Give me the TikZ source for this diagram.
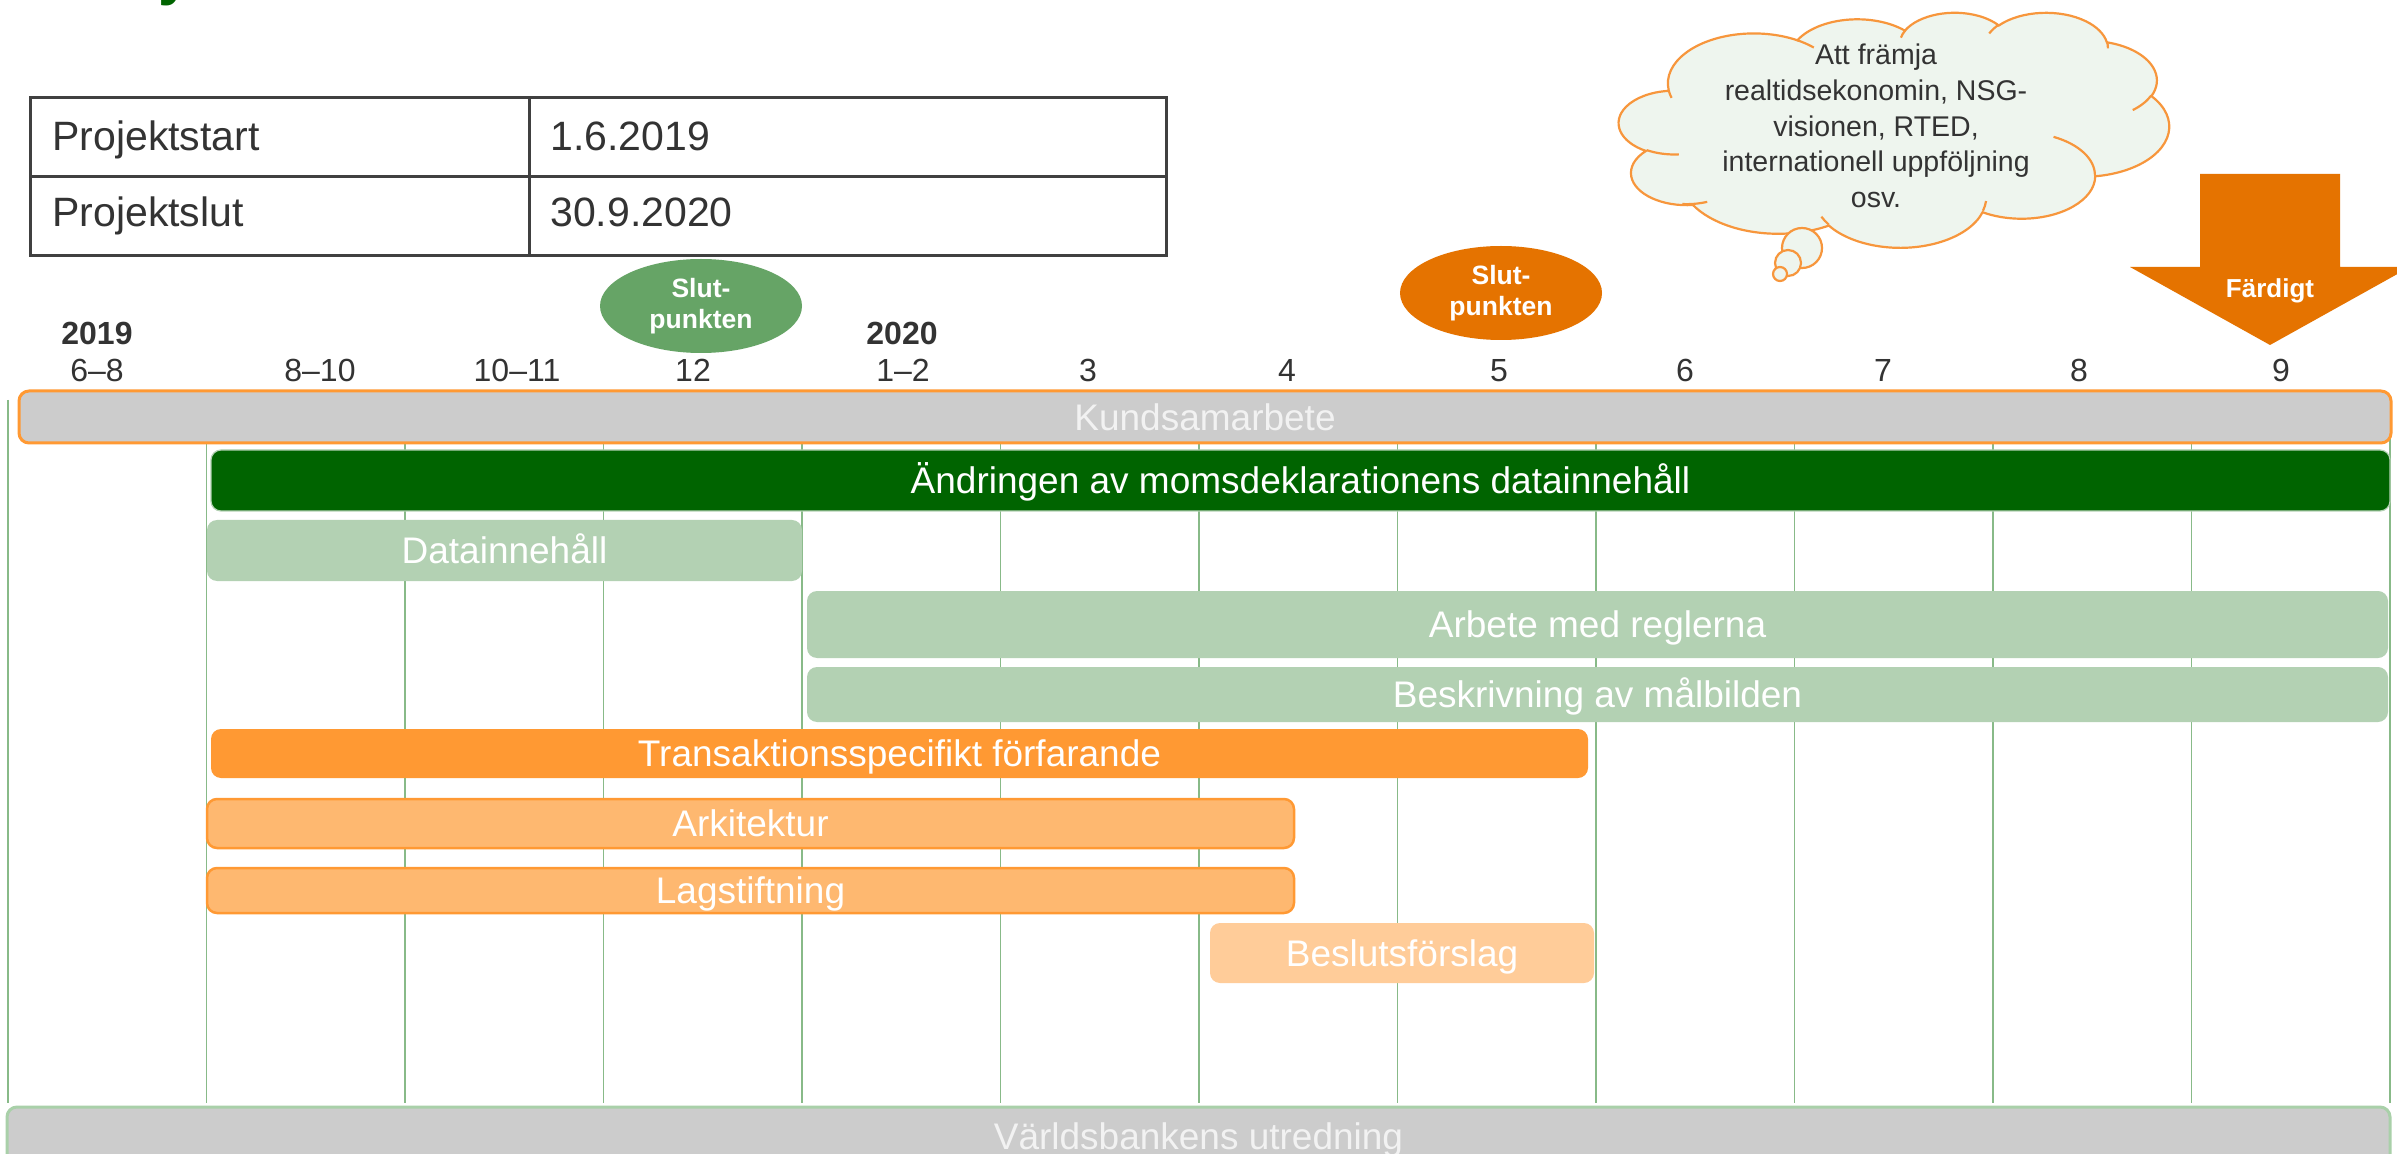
\documentclass[tikz,border=0pt]{standalone}
\usepackage{fontspec}
\setmainfont{Liberation Sans}
\usetikzlibrary{shapes.geometric}
\definecolor{gridgreen}{RGB}{136,186,136}
\definecolor{barorange}{RGB}{255,153,51}
\definecolor{lightorange}{RGB}{254,184,112}
\definecolor{paleorange}{RGB}{255,204,153}
\definecolor{lightgreen}{RGB}{179,209,179}
\definecolor{darkgreen}{RGB}{0,100,0}
\definecolor{midgreen}{RGB}{102,164,102}
\definecolor{deeporange}{RGB}{229,115,0}
\definecolor{greybar}{RGB}{204,204,204}
\definecolor{txtgrey}{RGB}{51,51,51}
\definecolor{tablegrey}{RGB}{64,64,64}
\definecolor{cloudfill}{RGB}{238,245,238}
\definecolor{cloudline}{RGB}{247,150,60}
\definecolor{wbborder}{RGB}{169,208,169}
% elliptic arc with DrawingML-style (visual) angles; radii in units of 10 shape units
\newcommand\cldef[5]{%
  \pgfmathsetmacro\cltmpa{atan2(#2*sin(#4),#3*cos(#4))}%
  \pgfmathsetmacro\cltmpb{mod(atan2(#2*sin(#4+#5),#3*cos(#4+#5))-\cltmpa+720,360)}%
  \xdef#1{arc[start angle=\cltmpa, delta angle=\cltmpb, x radius=#2, y radius=#3]}%
}
\cldef\clA{675.3}{919.0}{-190.4875}{123.7805}
\cldef\clB{533.3}{726.7}{-144.1024}{89.9452}
\cldef\clC{436.5}{594.5}{-145.8079}{99.7230}
\cldef\clD{485.7}{659.5}{-130.9861}{117.2417}
\cldef\clE{533.3}{727.3}{-78.7089}{109.0269}
\cldef\clF{677.5}{922.0}{-46.2673}{130.2690}
\cldef\clG{578.5}{786.7}{0.6250}{114.0333}
\cldef\clH{675.2}{921.5}{22.4516}{115.1726}
\cldef\clI{772.0}{1054.3}{66.2426}{75.7110}
\cldef\clJ{436.0}{591.8}{-274.9421}{146.7356}
\cldef\clK{434.5}{594.5}{-246.8285}{152.5189}
\cldef\crA{434.5}{594.5}{86.7420}{26.4295}
\cldef\crB{436.0}{591.8}{73.6105}{19.6138}
\cldef\crC{675.2}{921.5}{137.6242}{11.8598}
\cldef\crD{675.2}{921.5}{6.4533}{15.1056}
\cldef\crE{578.5}{786.7}{-70.2924}{70.7682}
\cldef\crF{533.3}{727.3}{30.3180}{27.7515}
\cldef\crG{485.7}{659.5}{-13.7443}{14.8589}
\cldef\crH{485.7}{659.5}{-149.1815}{18.1954}
\cldef\crI{436.5}{594.5}{-163.4943}{17.6864}
\cldef\crJ{675.3}{919.0}{-66.7070}{12.3194}
\cldef\crK{675.3}{919.0}{157.6544}{11.8582}
\tikzset{
  bar/.style={rectangle, rounded corners=5pt, inner sep=0pt, text=white,
    font=\fontsize{18.5}{22}\selectfont, text height=13.3pt, text depth=0pt},
  barsize/.style 2 args={minimum width=#1*0.5pt, minimum height=#2*0.5pt},
  month/.style={anchor=base, text=txtgrey, font=\fontsize{16}{19}\selectfont, inner sep=0pt},
  year/.style={anchor=base, text=txtgrey, font=\bfseries\fontsize{16}{19}\selectfont, inner sep=0pt},
  tabtext/.style={anchor=base west, text=txtgrey, font=\fontsize{20.5}{24}\selectfont, inner sep=0pt},
  milestone/.style={ellipse, inner sep=0pt, text=white, align=center,
    font=\bfseries\fontsize{13.25}{15.5}\selectfont, minimum width=202*0.5pt, minimum height=94*0.5pt},
  bubble/.style={circle, draw=cloudline, fill=cloudfill, line width=1.1pt, inner sep=0pt},
  cloudstroke/.style={draw=cloudline, line width=1.1pt},
  gridline/.style={draw=gridgreen, line width=0.8pt}
}
\begin{document}
\begin{tikzpicture}[x=0.5pt,y=-0.5pt]
\useasboundingbox (0,0) rectangle (2397,1154);
\clip (0,0) rectangle (2397,1154);
\fill[white] (0,0) rectangle (2397,1154);

% fragment of title
\node[anchor=base west, inner sep=0pt, text=darkgreen, font=\bfseries\fontsize{30}{36}\selectfont] (title) at (158,-6) {y};

% table
\draw[tablegrey, line width=1.5pt] (30,98) rectangle (1166,256);
\draw[tablegrey, line width=1.5pt] (30,177) -- (1166,177);
\draw[tablegrey, line width=1.5pt] (529,98) -- (529,256);
\node[tabtext] (ps) at (52,151) {Projektstart};
\node[tabtext] (pe) at (52,227) {Projektslut};
\node[tabtext] (psd) at (550,151) {1.6.2019};
\node[tabtext] (ped) at (550,227) {30.9.2020};

% cloud (thought bubble)
\begin{scope}[shift={(1619,12)}, xscale=0.127315, yscale=0.054398]
  \fill[cloudfill] (390.0,1437.0) \clA \clB \clC \clD \clE \clF \clG \clH \clI \clJ \clK -- cycle;
  \draw[cloudstroke] (390.0,1437.0) \clA \clB \clC \clD \clE \clF \clG \clH \clI \clJ \clK -- cycle;
  \draw[cloudstroke] (469.3,2617.7) \crA (692.8,3489.9) \crB (1647.8,3909.0) \crC
    (2882.7,3475.1) \crD (3412.9,2295.4) \crE (4179.8,1535.4) \crF (3832.4,542.6) \crG
    (2907.8,395.2) \crH (2214.1,472.0) \crI (1400.0,519.2) \crJ (412.7,1578.9) \crK;
\end{scope}
\coordinate (cloud) at (1894,130);
\node[bubble, minimum size=40*0.5pt] (b1) at (1802,248) {};
\node[bubble, minimum size=26*0.5pt] (b2) at (1788,263) {};
\node[bubble, minimum size=14*0.5pt] (b3) at (1780,274) {};
\node[align=center, text=txtgrey, font=\fontsize{14.25}{17.8}\selectfont, inner sep=0pt] (cloudtext) at (1876,126)
  {Att främja\\realtidsekonomin, NSG-\\visionen, RTED,\\internationell uppföljning\\osv.};

% milestones
\node[milestone, fill=midgreen] (ms1) at (701,306) {Slut-\\punkten};
\node[milestone, fill=deeporange] (ms2) at (1501,293) {Slut-\\punkten};

% Färdigt arrow
\fill[deeporange] (2200,174) -- (2340,174) -- (2340,267) -- (2410,267) -- (2270,345) -- (2130,267) -- (2200,267) -- cycle;
\node[anchor=base, inner sep=0pt, text=white, font=\bfseries\fontsize{13}{15}\selectfont] (fardigt) at (2270,298) {Färdigt};

% years and months
\node[year] (y2019) at (97,345) {2019};
\node[year] (y2020) at (902,345) {2020};
\foreach \x/\t/\n in {97/6–8/m1, 320/8–10/m2, 517/10–11/m3, 693/12/m4, 903/1–2/m5, 1088/3/m6,
  1287/4/m7, 1499/5/m8, 1685/6/m9, 1883/7/m10, 2079/8/m11, 2281/9/m12}
  \node[month] (\n) at (\x,382) {\t};

% grid lines
\foreach \k in {0,...,12}
  \draw[gridline] (8+\k*198.5,400) -- (8+\k*198.5,1103);

% bars
\node[bar, barsize={2372}{52}, fill=greybar, draw=barorange, line width=1.5pt, text=white!95!black] (kund) at (1205,417) {Kundsamarbete};
\node[bar, barsize={2179}{61}, fill=darkgreen, draw=lightgreen, line width=0.6pt] (andr) at (1300.5,480.5) {Ändringen av momsdeklarationens datainnehåll};
\node[bar, barsize={595}{61}, fill=lightgreen] (data) at (504.5,550.5) {Datainnehåll};
\node[bar, barsize={1581}{67}, fill=lightgreen] (regl) at (1597.5,624.5) {Arbete med reglerna};
\node[bar, barsize={1581}{55}, fill=lightgreen] (malb) at (1597.5,694.5) {Beskrivning av målbilden};
\node[bar, barsize={1377}{49}, fill=barorange] (trans) at (899.5,753.5) {Transaktionsspecifikt förfarande};
\node[bar, barsize={1087}{49}, fill=lightorange, draw=barorange, line width=1.25pt] (ark) at (750.5,823.5) {Arkitektur};
\node[bar, barsize={1087}{45}, fill=lightorange, draw=barorange, line width=1.25pt] (lag) at (750.5,890.5) {Lagstiftning};
\node[bar, barsize={384}{60}, fill=paleorange] (besl) at (1402,953) {Beslutsförslag};
\node[bar, barsize={2383}{58}, fill=greybar, draw=wbborder, line width=1.5pt, text=white!95!black] (wb) at (1198.5,1136) {Världsbankens utredning};
\end{tikzpicture}
\end{document}
